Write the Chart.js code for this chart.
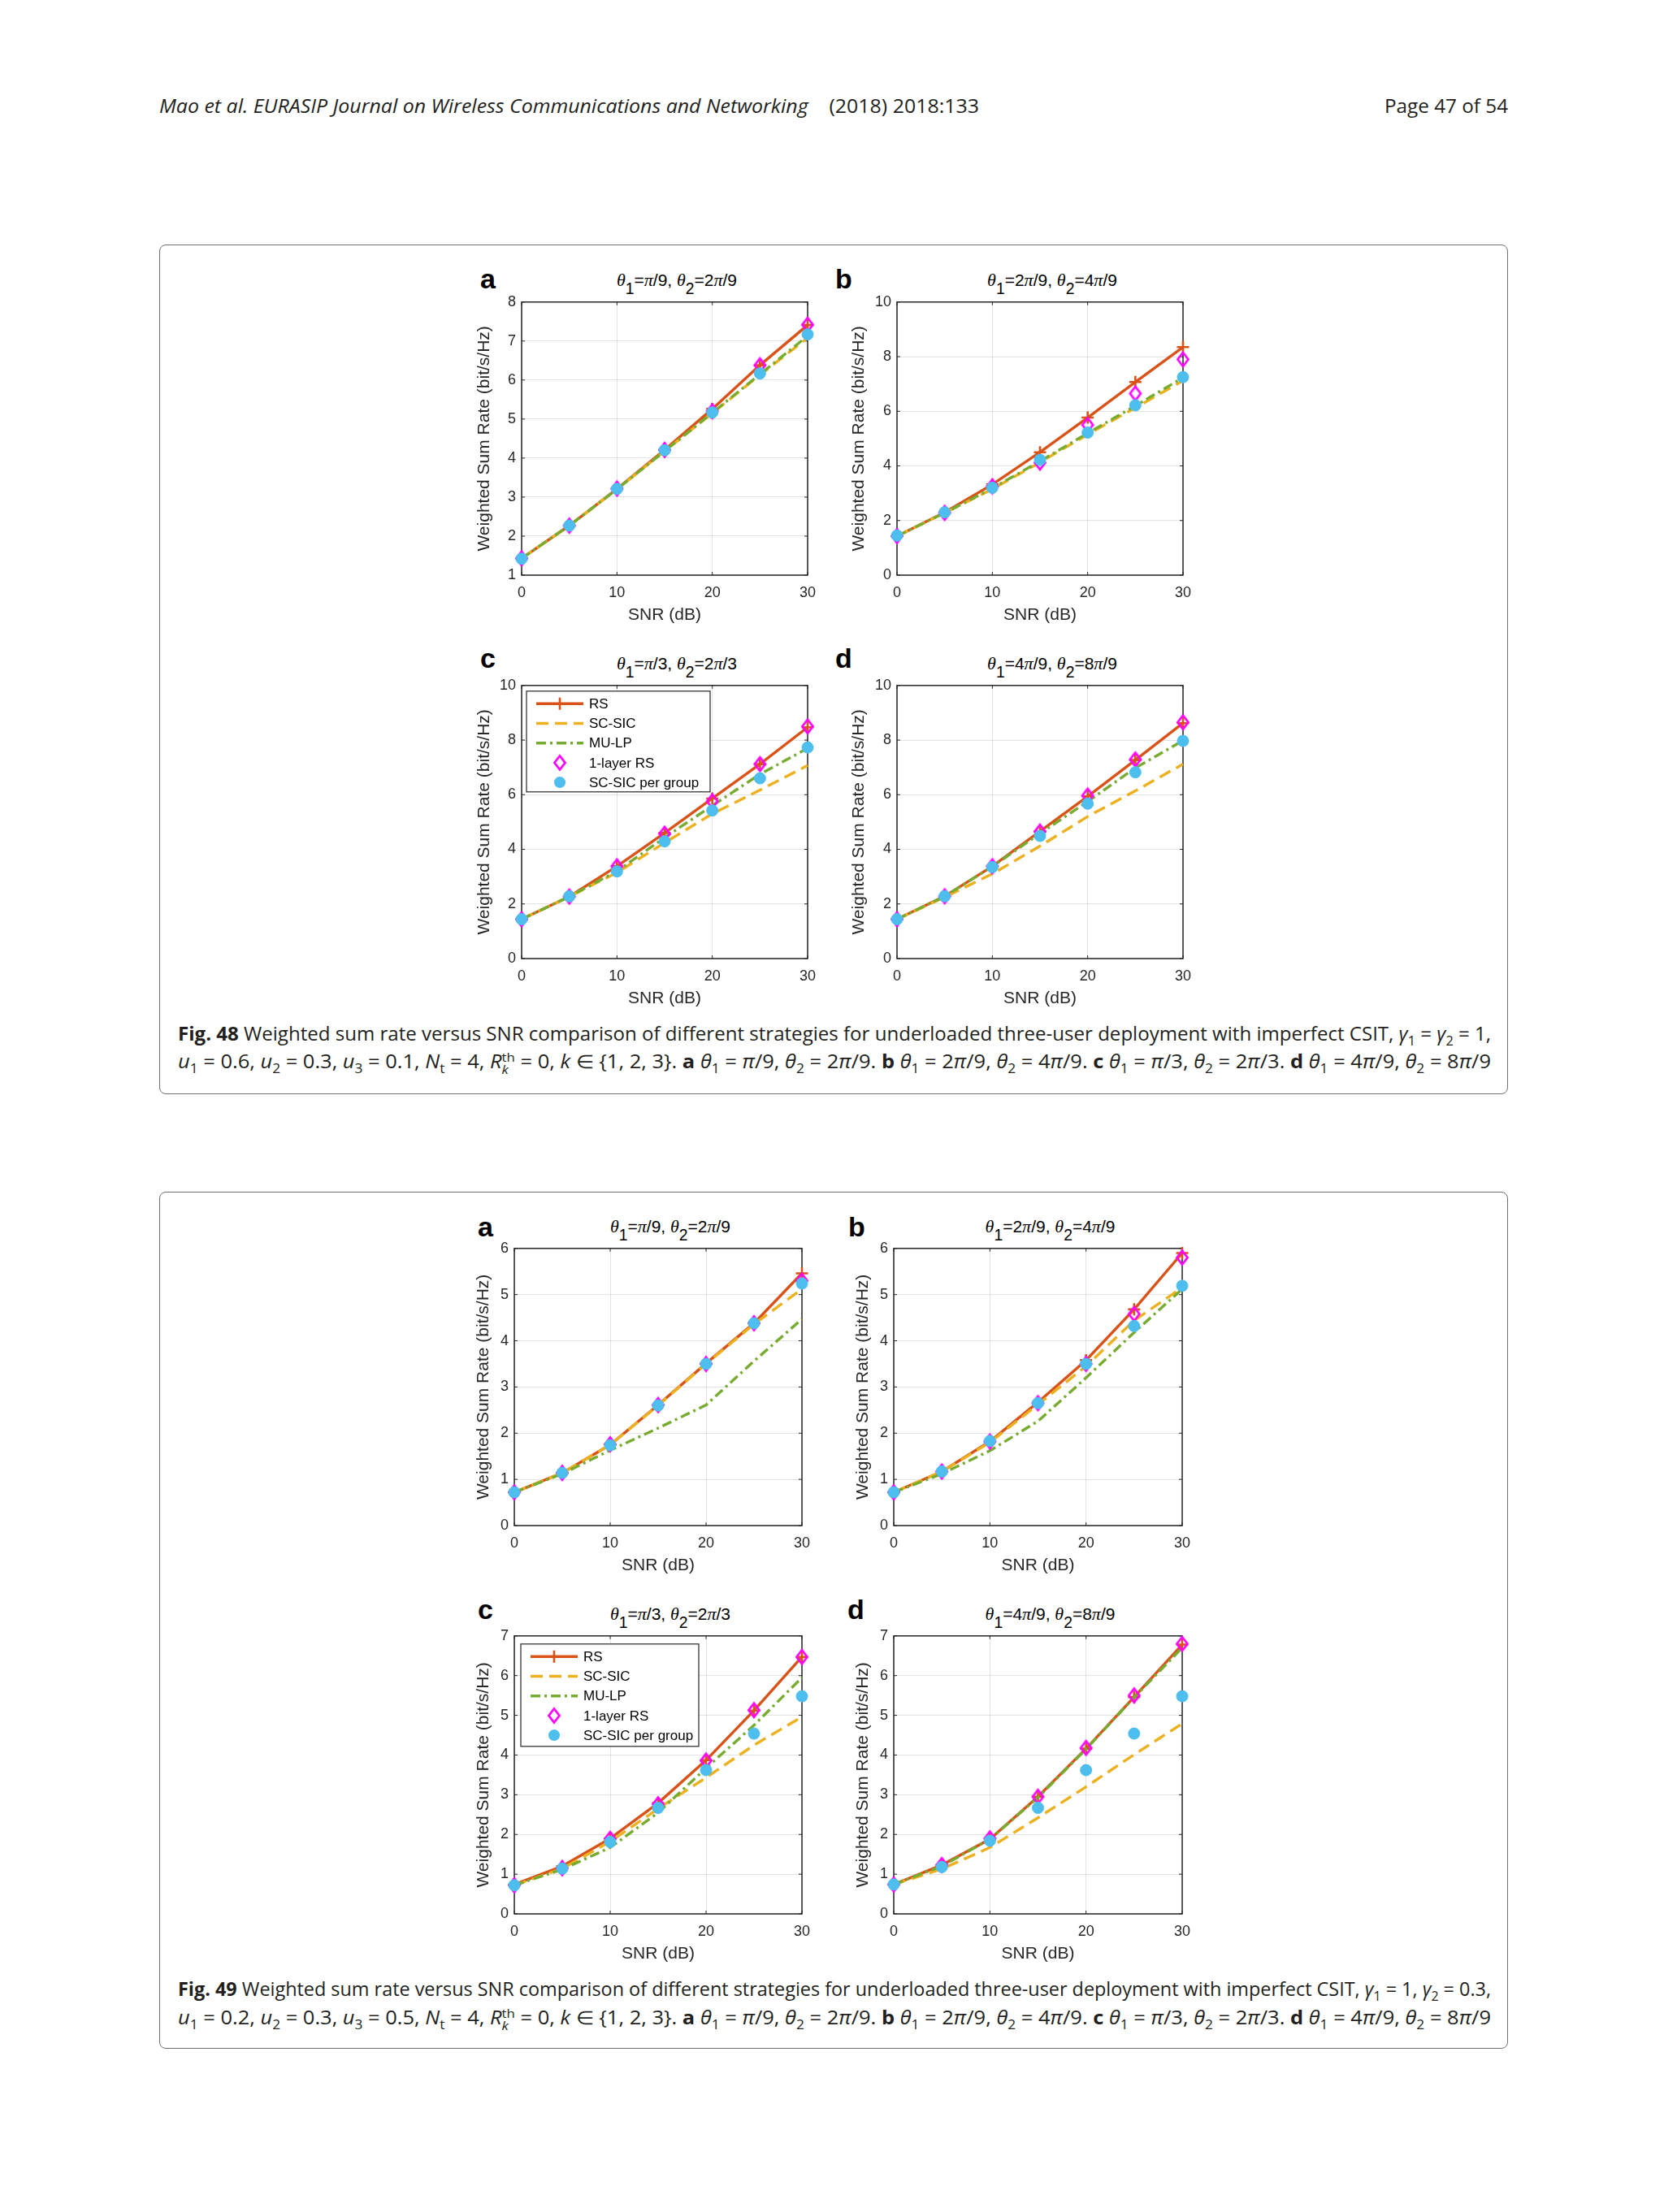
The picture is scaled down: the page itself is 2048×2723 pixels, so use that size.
<!DOCTYPE html>
<html>
<head>
<meta charset="utf-8">
<script src="https://cdn.jsdelivr.net/npm/chart.js@4.4.1/dist/chart.umd.min.js"></script>
<style>
html, body { margin: 0; padding: 0; background: #fff; }
body { width: 2048px; height: 2723px; position: relative; overflow: hidden; color: #231f20; }
.abs { position: absolute; white-space: nowrap; transform-origin: left top; }
.hdr { font-family: 'Open Sans'; font-size: 24px; line-height: 30px; }
.cap { font-family: 'Open Sans'; font-size: 23px; line-height: 30px; }
.cap sub, .cap sup { font-size: 0.68em; line-height: 0; }
.rk { display: inline-block; vertical-align: -0.45em; font-size: 0.66em; line-height: 0.95; text-align: left; }
.rk span { display: block; }
.frame { position: absolute; border: 1.5px solid #707070; border-radius: 8px; box-sizing: border-box; }
.letter { position: absolute; font: bold 34px 'Liberation Sans'; line-height: 34px; color: #000; }
.ptitle { position: absolute; font: 21px 'Liberation Sans'; line-height: 20px; height: 20px; white-space: nowrap; transform: translateX(-50%); color: #000; }
.ptitle .g { font-family: 'Liberation Serif'; font-style: italic; font-size: 22px; }
.ptitle sub { font-size: 0.92em; position: relative; top: 0.5em; vertical-align: baseline; line-height: 0; }
canvas { position: absolute; }
</style>
</head>
<body>

<div class="abs hdr" id="hdrL" style="left:196px;top:115px;"><i>Mao et al. EURASIP Journal on Wireless Communications and Networking</i>&nbsp;&nbsp;&nbsp;&nbsp;(2018) 2018:133</div>
<div class="abs hdr" id="hdrR" style="left:1704px;top:115px;">Page 47 of 54</div>

<div class="frame" style="left:196px;top:301px;width:1660px;height:1046px;"></div>
<div class="frame" style="left:196px;top:1467px;width:1660px;height:1055px;"></div>

<div class="abs cap" id="c48a" style="left:219px;top:1257px;"><b>Fig. 48</b> Weighted sum rate versus SNR comparison of different strategies for underloaded three-user deployment with imperfect CSIT, <i>γ</i><sub>1</sub> = <i>γ</i><sub>2</sub> = 1,</div>
<div class="abs cap" id="c48b" style="left:219px;top:1291px;"><i>u</i><sub>1</sub> = 0.6, <i>u</i><sub>2</sub> = 0.3, <i>u</i><sub>3</sub> = 0.1, <i>N</i><sub>t</sub> = 4, <i>R</i><span class="rk"><span>th</span><span><i>k</i></span></span> = 0, <i>k</i> ∈ {1, 2, 3}. <b>a</b> <i>θ</i><sub>1</sub> = <i>π</i>/9, <i>θ</i><sub>2</sub> = 2<i>π</i>/9. <b>b</b> <i>θ</i><sub>1</sub> = 2<i>π</i>/9, <i>θ</i><sub>2</sub> = 4<i>π</i>/9. <b>c</b> <i>θ</i><sub>1</sub> = <i>π</i>/3, <i>θ</i><sub>2</sub> = 2<i>π</i>/3. <b>d</b> <i>θ</i><sub>1</sub> = 4<i>π</i>/9, <i>θ</i><sub>2</sub> = 8<i>π</i>/9</div>

<div class="abs cap" id="c49a" style="left:219px;top:2433px;"><b>Fig. 49</b> Weighted sum rate versus SNR comparison of different strategies for underloaded three-user deployment with imperfect CSIT, <i>γ</i><sub>1</sub> = 1, <i>γ</i><sub>2</sub> = 0.3,</div>
<div class="abs cap" id="c49b" style="left:219px;top:2468px;"><i>u</i><sub>1</sub> = 0.2, <i>u</i><sub>2</sub> = 0.3, <i>u</i><sub>3</sub> = 0.5, <i>N</i><sub>t</sub> = 4, <i>R</i><span class="rk"><span>th</span><span><i>k</i></span></span> = 0, <i>k</i> ∈ {1, 2, 3}. <b>a</b> <i>θ</i><sub>1</sub> = <i>π</i>/9, <i>θ</i><sub>2</sub> = 2<i>π</i>/9. <b>b</b> <i>θ</i><sub>1</sub> = 2<i>π</i>/9, <i>θ</i><sub>2</sub> = 4<i>π</i>/9. <b>c</b> <i>θ</i><sub>1</sub> = <i>π</i>/3, <i>θ</i><sub>2</sub> = 2<i>π</i>/3. <b>d</b> <i>θ</i><sub>1</sub> = 4<i>π</i>/9, <i>θ</i><sub>2</sub> = 8<i>π</i>/9</div>

<script>
// x values shared by every panel
const snr = [0, 5, 10, 15, 20, 25, 30];
const seriesNames = ['RS', 'SC-SIC', 'MU-LP', '1-layer RS', 'SC-SIC per group'];
const panelLetters = ['a', 'b', 'c', 'd'];
const panelAngles = [['π/9', '2π/9'], ['2π/9', '4π/9'], ['π/3', '2π/3'], ['4π/9', '8π/9']];

// Fig. 48
const f48aRS = [1.43, 2.27, 3.21, 4.21, 5.26, 6.38, 7.41];
const f48aSC = [1.43, 2.27, 3.20, 4.18, 5.15, 6.13, 7.08];
const f48aMU = [1.43, 2.27, 3.20, 4.18, 5.16, 6.15, 7.13];
const f48a1L = [1.43, 2.27, 3.22, 4.21, 5.20, 6.38, 7.42];
const f48aGR = [1.42, 2.27, 3.21, 4.20, 5.17, 6.17, 7.17];

const f48bRS = [1.43, 2.30, 3.32, 4.50, 5.77, 7.07, 8.35];
const f48bSC = [1.43, 2.28, 3.15, 4.13, 5.15, 6.13, 7.12];
const f48bMU = [1.43, 2.28, 3.18, 4.17, 5.20, 6.20, 7.23];
const f48b1L = [1.43, 2.28, 3.25, 4.12, 5.50, 6.65, 7.90];
const f48bGR = [1.45, 2.30, 3.20, 4.22, 5.22, 6.22, 7.25];

const f48cRS = [1.44, 2.27, 3.38, 4.60, 5.86, 7.12, 8.47];
const f48cSC = [1.44, 2.27, 3.15, 4.24, 5.30, 6.17, 7.07];
const f48cMU = [1.44, 2.27, 3.20, 4.43, 5.60, 6.75, 7.70];
const f48c1L = [1.44, 2.27, 3.38, 4.57, 5.76, 7.12, 8.50];
const f48cGR = [1.44, 2.28, 3.19, 4.29, 5.42, 6.60, 7.73];

const f48dRS = [1.44, 2.28, 3.38, 4.66, 5.94, 7.27, 8.62];
const f48dSC = [1.44, 2.25, 3.10, 4.12, 5.20, 6.14, 7.12];
const f48dMU = [1.44, 2.28, 3.37, 4.58, 5.75, 6.98, 7.98];
const f48d1L = [1.44, 2.28, 3.38, 4.65, 5.97, 7.29, 8.65];
const f48dGR = [1.44, 2.28, 3.35, 4.49, 5.67, 6.82, 7.97];

// Fig. 49
const f49aRS = [0.72, 1.14, 1.75, 2.61, 3.51, 4.38, 5.46];
const f49aSC = [0.72, 1.14, 1.75, 2.60, 3.50, 4.36, 5.12];
const f49aMU = [0.72, 1.12, 1.63, 2.11, 2.61, 3.56, 4.47];
const f49a1L = [0.72, 1.14, 1.76, 2.61, 3.50, 4.38, 5.30];
const f49aGR = [0.72, 1.14, 1.74, 2.60, 3.50, 4.38, 5.24];

const f49bRS = [0.72, 1.17, 1.82, 2.67, 3.58, 4.68, 5.90];
const f49bSC = [0.72, 1.17, 1.80, 2.62, 3.45, 4.44, 5.15];
const f49bMU = [0.72, 1.12, 1.62, 2.26, 3.20, 4.18, 5.12];
const f49b1L = [0.72, 1.17, 1.82, 2.65, 3.50, 4.58, 5.80];
const f49bGR = [0.72, 1.17, 1.83, 2.65, 3.50, 4.32, 5.19];

const f49cRS = [0.74, 1.20, 1.90, 2.79, 3.87, 5.12, 6.47];
const f49cSC = [0.72, 1.14, 1.82, 2.65, 3.43, 4.25, 4.96];
const f49cMU = [0.72, 1.12, 1.67, 2.55, 3.67, 4.75, 5.95];
const f49c1L = [0.72, 1.15, 1.89, 2.76, 3.86, 5.13, 6.47];
const f49cGR = [0.72, 1.14, 1.81, 2.67, 3.62, 4.54, 5.48];

const f49dRS = [0.74, 1.23, 1.88, 2.95, 4.16, 5.46, 6.78];
const f49dSC = [0.74, 1.13, 1.67, 2.42, 3.20, 4.01, 4.79];
const f49dMU = [0.74, 1.20, 1.88, 2.93, 4.15, 5.45, 6.70];
const f49d1L = [0.74, 1.23, 1.90, 2.95, 4.18, 5.50, 6.80];
const f49dGR = [0.74, 1.18, 1.84, 2.67, 3.62, 4.54, 5.48];

// plot-area boxes on the page, axis ranges, legend placement
const panels = [
  {k: 0, L: 642, T: 369, R: 994, B: 708, ymin: 1, ymax: 8, step: 1, ylab: 46, lx: 593, lb: 355, series: [f48aRS, f48aSC, f48aMU, f48a1L, f48aGR]},
  {k: 1, L: 1104, T: 369, R: 1456, B: 708, ymin: 0, ymax: 10, step: 2, ylab: 47, lx: 1030, lb: 355, series: [f48bRS, f48bSC, f48bMU, f48b1L, f48bGR]},
  {k: 2, L: 642, T: 841, R: 994, B: 1180, ymin: 0, ymax: 10, step: 2, ylab: 46, lx: 593, lb: 822, series: [f48cRS, f48cSC, f48cMU, f48c1L, f48cGR],
   legend: {dx: 6, dy: 7, w: 226, h: 124}},
  {k: 3, L: 1104, T: 841, R: 1456, B: 1180, ymin: 0, ymax: 10, step: 2, ylab: 47, lx: 1030, lb: 822, series: [f48dRS, f48dSC, f48dMU, f48d1L, f48dGR]},
  {k: 0, L: 633, T: 1534, R: 987, B: 1878, ymin: 0, ymax: 6, step: 1, ylab: 38, lx: 590, lb: 1522, series: [f49aRS, f49aSC, f49aMU, f49a1L, f49aGR]},
  {k: 1, L: 1100, T: 1534, R: 1455, B: 1878, ymin: 0, ymax: 6, step: 1, ylab: 38, lx: 1046, lb: 1522, series: [f49bRS, f49bSC, f49bMU, f49b1L, f49bGR]},
  {k: 2, L: 633, T: 2011, R: 987, B: 2356, ymin: 0, ymax: 7, step: 1, ylab: 38, lx: 590, lb: 1993, series: [f49cRS, f49cSC, f49cMU, f49c1L, f49cGR],
   legend: {dx: 8, dy: 10, w: 219, h: 126}},
  {k: 3, L: 1100, T: 2011, R: 1455, B: 2356, ymin: 0, ymax: 7, step: 1, ylab: 38, lx: 1045, lb: 1993, series: [f49dRS, f49dSC, f49dMU, f49d1L, f49dGR]}
];

const AXC = '#262626';
Chart.defaults.font.family = "'Liberation Sans', Arial, sans-serif";
Chart.defaults.color = AXC;

const diamond = (() => {
  const c = document.createElement('canvas');
  c.width = 20; c.height = 24;
  const g = c.getContext('2d');
  g.strokeStyle = '#FF00FF';
  g.lineWidth = 2.8;
  g.beginPath();
  g.moveTo(10, 3.5); g.lineTo(16.5, 12); g.lineTo(10, 20.5); g.lineTo(3.5, 12);
  g.closePath();
  g.stroke();
  return c;
})();

const looks = [
  {borderColor: '#D95319', borderWidth: 3.4, showLine: true, pointStyle: 'cross', pointRadius: 7.5, pointBorderWidth: 2.6, pointBorderColor: '#D95319', order: 5},
  {borderColor: '#EDB120', borderWidth: 3.4, borderDash: [15, 8], showLine: true, pointRadius: 0, order: 4},
  {borderColor: '#77AC30', borderWidth: 3.4, borderDash: [12, 5, 3, 5], showLine: true, pointRadius: 0, order: 3},
  {borderColor: '#FF00FF', showLine: false, pointStyle: diamond, pointRadius: 8, order: 2},
  {borderColor: '#4DBEEE', backgroundColor: '#4DBEEE', showLine: false, pointStyle: 'circle', pointRadius: 7,
   pointBackgroundColor: '#4DBEEE', pointBorderColor: '#4DBEEE', pointBorderWidth: 1, order: 1}
];

function drawMarker(ctx, ds, x, y) {
  const st = ds.pointStyle;
  if (!ds.pointRadius) return;
  ctx.save();
  if (st instanceof HTMLCanvasElement) {
    ctx.drawImage(st, x - st.width / 2, y - st.height / 2);
  } else if (st === 'cross') {
    ctx.strokeStyle = ds.pointBorderColor; ctx.lineWidth = ds.pointBorderWidth; ctx.setLineDash([]);
    ctx.beginPath();
    ctx.moveTo(x - ds.pointRadius, y); ctx.lineTo(x + ds.pointRadius, y);
    ctx.moveTo(x, y - ds.pointRadius); ctx.lineTo(x, y + ds.pointRadius);
    ctx.stroke();
  } else {
    ctx.fillStyle = ds.pointBackgroundColor;
    ctx.beginPath(); ctx.arc(x, y, ds.pointRadius, 0, Math.PI * 2); ctx.fill();
  }
  ctx.restore();
}

// MATLAB-like box with inward ticks
const axesBox = {
  id: 'axesBox',
  beforeDatasetsDraw(chart) {
    const {ctx, chartArea: a, scales} = chart;
    ctx.save();
    ctx.strokeStyle = AXC;
    ctx.lineWidth = 1.5;
    ctx.strokeRect(a.left, a.top, a.right - a.left, a.bottom - a.top);
    ctx.lineWidth = 1;
    ctx.beginPath();
    scales.x.ticks.forEach(t => {
      const px = scales.x.getPixelForValue(t.value);
      ctx.moveTo(px, a.bottom); ctx.lineTo(px, a.bottom - 4);
      ctx.moveTo(px, a.top); ctx.lineTo(px, a.top + 4);
    });
    scales.y.ticks.forEach(t => {
      const py = scales.y.getPixelForValue(t.value);
      ctx.moveTo(a.left, py); ctx.lineTo(a.left + 4, py);
      ctx.moveTo(a.right, py); ctx.lineTo(a.right - 4, py);
    });
    ctx.stroke();
    ctx.restore();
  }
};

// legend box inside the axes
const boxLegend = {
  id: 'boxLegend',
  afterDatasetsDraw(chart, args, opts) {
    if (!opts || !opts.w) return;
    const ctx = chart.ctx, a = chart.chartArea;
    const x0 = a.left + opts.dx, y0 = a.top + opts.dy;
    ctx.save();
    ctx.fillStyle = '#fff';
    ctx.fillRect(x0, y0, opts.w, opts.h);
    ctx.strokeStyle = AXC;
    ctx.lineWidth = 1.2;
    ctx.strokeRect(x0, y0, opts.w, opts.h);
    chart.data.datasets.forEach((ds, i) => {
      const cy = y0 + 15.5 + i * 24.2;
      if (ds.showLine) {
        ctx.strokeStyle = ds.borderColor;
        ctx.lineWidth = ds.borderWidth;
        ctx.setLineDash(ds.borderDash || []);
        ctx.beginPath(); ctx.moveTo(x0 + 12, cy); ctx.lineTo(x0 + 70, cy); ctx.stroke();
        ctx.setLineDash([]);
      }
      drawMarker(ctx, ds, x0 + 41, cy);
      ctx.fillStyle = '#000';
      ctx.font = "17px 'Liberation Sans'";
      ctx.textBaseline = 'middle';
      ctx.fillText(ds.label, x0 + 77, cy + 1);
    });
    ctx.restore();
  }
};

function addText(cls, html, left, top, extra) {
  const d = document.createElement('div');
  d.className = cls;
  d.innerHTML = html;
  d.style.left = left + 'px';
  d.style.top = top + 'px';
  if (extra) Object.assign(d.style, extra);
  document.body.appendChild(d);
  return d;
}

function greek(s) {
  return s.replace(/π/g, '<span class="g">π</span>');
}

function makePanel(p) {
  const yw = 75, tp = 15, rp = 22, xh = 70;
  const W = p.R - p.L, H = p.B - p.T;

  addText('letter', panelLetters[p.k], p.lx - 2, p.lb - 29);
  const ang = panelAngles[p.k];
  addText('ptitle', '<span class="g">θ</span><sub>1</sub>=' + greek(ang[0]) + ', <span class="g">θ</span><sub>2</sub>=' + greek(ang[1]),
    p.L + W / 2 + 15, p.T - 18 - 16);

  const cv = document.createElement('canvas');
  cv.width = W + yw + rp;
  cv.height = H + tp + xh;
  cv.style.left = (p.L - yw) + 'px';
  cv.style.top = (p.T - tp) + 'px';
  document.body.appendChild(cv);

  const datasets = p.series.map((vals, i) => Object.assign({
    label: seriesNames[i],
    data: snr.map((s, j) => ({x: s, y: vals[j]})),
    fill: false,
    tension: 0,
    clip: false
  }, looks[i]));

  new Chart(cv, {
    type: 'line',
    data: {datasets},
    options: {
      responsive: false,
      animation: false,
      events: [],
      layout: {padding: {top: tp, right: rp, left: 0, bottom: 0}},
      plugins: {
        legend: {display: false},
        tooltip: {enabled: false},
        boxLegend: p.legend || {}
      },
      scales: {
        x: {
          type: 'linear', min: 0, max: 30,
          ticks: {stepSize: 10, padding: 11, maxRotation: 0, color: AXC, font: {size: 18}},
          grid: {color: 'rgba(0,0,0,0.11)', drawTicks: false},
          border: {display: false},
          title: {display: true, text: 'SNR (dB)', color: AXC, font: {size: 21}, padding: {top: 0, bottom: 8}},
          afterFit(s) { s.height = xh; }
        },
        y: {
          type: 'linear', min: p.ymin, max: p.ymax,
          ticks: {stepSize: p.step, padding: 7, color: AXC, font: {size: 18}},
          grid: {color: 'rgba(0,0,0,0.11)', drawTicks: false},
          border: {display: false},
          title: {display: true, text: 'Weighted Sum Rate (bit/s/Hz)', color: AXC, font: {size: 21},
                  padding: {top: yw - p.ylab - 12.6, bottom: 0}},
          afterFit(s) { s.width = yw; }
        }
      }
    },
    plugins: [axesBox, boxLegend]
  });
}

panels.forEach(makePanel);

// squeeze page text to the widths of the original typesetting
function fit(id, w) {
  const el = document.getElementById(id);
  const nw = el.getBoundingClientRect().width;
  el.style.transform = 'scaleX(' + (w / nw) + ')';
}
fit('hdrL', 1009);
fit('hdrR', 152);
fit('c48a', 1616);
fit('c48b', 1616);
fit('c49a', 1616);
fit('c49b', 1616);
</script>
</body>
</html>
